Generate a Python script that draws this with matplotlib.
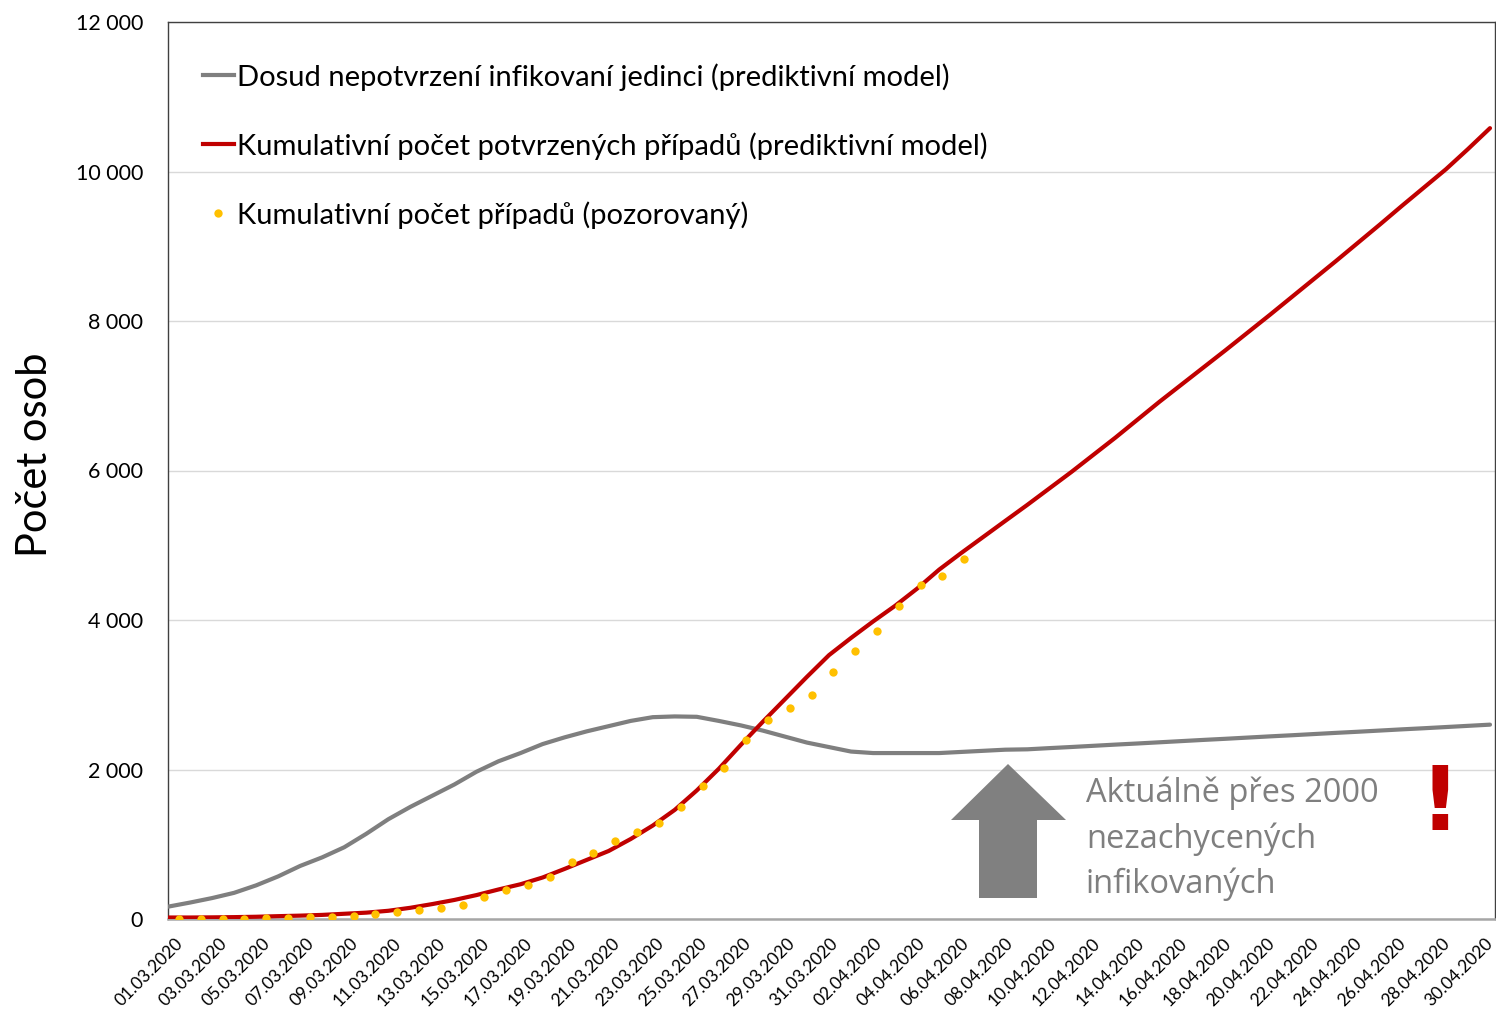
import numpy as np
import matplotlib
matplotlib.use("Agg")
import matplotlib.pyplot as plt
from matplotlib.lines import Line2D
from matplotlib.patches import Polygon
from matplotlib.ticker import FuncFormatter, MultipleLocator
import matplotlib.transforms as mtransforms

# ---------------- data ----------------
day_labels = [f"{d:02d}.03.2020" for d in range(1, 32)] + [f"{d:02d}.04.2020" for d in range(1, 31)]

unconfirmed_model = [165, 220, 280, 350, 450, 570, 710, 825, 960, 1140,
                     1335, 1500, 1650, 1800, 1970, 2110, 2220, 2340, 2430, 2510,
                     2580, 2650, 2700, 2710, 2705, 2650, 2590, 2520, 2440, 2360,
                     2300, 2240, 2220, 2220, 2220, 2220, 2235, 2250, 2265, 2270,
                     2286, 2301, 2317, 2333, 2348, 2364, 2380, 2396, 2411, 2427,
                     2443, 2458, 2474, 2490, 2505, 2521, 2537, 2552, 2568, 2584,
                     2600]

confirmed_model = [20, 20, 22, 25, 30, 38, 45, 55, 70, 85,
                   110, 150, 200, 255, 320, 395, 465, 555, 670, 790,
                   910, 1070, 1250, 1460, 1720, 2010, 2330, 2640, 2940, 3240,
                   3530, 3760, 3980, 4190, 4420, 4674, 4896, 5111, 5326, 5540,
                   5760, 5980, 6210, 6440, 6680, 6920, 7150, 7380, 7610, 7845,
                   8080, 8320, 8560, 8800, 9045, 9290, 9540, 9785, 10030, 10300,
                   10580]

observed = [3, 3, 5, 5, 8, 19, 26, 32, 38, 63,
            94, 116, 141, 189, 298, 383, 450, 560, 765, 889,
            1047, 1161, 1287, 1497, 1775, 2022, 2395, 2657, 2817, 3001,
            3308, 3589, 3858, 4190, 4472, 4587, 4822]

legend_labels = ["Dosud nepotvrzení infikovaní jedinci (prediktivní model)",
                 "Kumulativní počet potvrzených případů (prediktivní model)",
                 "Kumulativní počet případů (pozorovaný)"]

annotation_text = "Aktuálně přes 2000\nnezachycených\ninfikovaných"

# ---------------- style ----------------
GRAY = "#7F7F7F"
RED = "#C00000"
GOLD = "#FFC000"
plt.rcParams['font.family'] = ['Lato', 'DejaVu Sans']

W, H = 1496, 1009
fig = plt.figure(figsize=(W / 100, H / 100), dpi=100)
ax_l, ax_r, ax_t, ax_b = 168, 1495, 22, 919
ax = fig.add_axes([ax_l / W, 1 - ax_b / H, (ax_r - ax_l) / W, (ax_b - ax_t) / H])

x_days = np.arange(len(day_labels))
x_obs = np.arange(len(observed)) * 0.99 + 0.5

ax.plot(x_days, unconfirmed_model, color=GRAY, lw=3.0, solid_capstyle='round', zorder=3)
ax.plot(x_days, confirmed_model, color=RED, lw=3.0, solid_capstyle='round', zorder=4)
ax.plot(x_obs, observed, linestyle='none', marker='o', ms=6, color=GOLD, mec='none', zorder=5)

ax.set_xlim(0, (len(day_labels) - 1) * (ax_r - ax_l) / (1490 - ax_l))
ax.set_ylim(0, 12000)

ax.yaxis.set_major_locator(MultipleLocator(2000))
ax.yaxis.set_major_formatter(FuncFormatter(lambda v, p: f"{int(v):,}".replace(",", " ")))
ax.grid(axis='y', color='#D9D9D9', lw=1)
ax.set_axisbelow(True)

# x tick labels drawn as rotated texts below each tick
tick_pos = x_days[::2]
tick_txt = day_labels[::2]
ax.set_xticks(tick_pos)
ax.set_xticklabels([])
n = len(tick_pos)
base = ax.get_xaxis_transform()
for i, (xp, lab) in enumerate(zip(tick_pos, tick_txt)):
    dx = 7 - 12 * i / (n - 1)
    off = mtransforms.ScaledTranslation(dx / 100, -16 / 100, fig.dpi_scale_trans)
    ax.text(xp, 0, lab, transform=base + off, rotation=45, ha='right', va='top',
            rotation_mode='anchor', fontsize=12.5, clip_on=False)

ax.tick_params(axis='both', length=0)
ax.tick_params(axis='y', labelsize=15.5, pad=18)

for s in ['left', 'top', 'right']:
    ax.spines[s].set_color('#404040')
    ax.spines[s].set_linewidth(1.0)
ax.spines['bottom'].set_color('#A6A6A6')
ax.spines['bottom'].set_linewidth(1.8)

fig.text(35 / W, 1 - 455 / H, "Počet osob", rotation=90, fontsize=30,
         ha='center', va='center')

handles = [Line2D([], [], color=GRAY, lw=3),
           Line2D([], [], color=RED, lw=3),
           Line2D([], [], color=GOLD, marker='o', ms=6, linestyle='none', mec='none')]
leg = ax.legend(handles, legend_labels, loc='upper left',
                bbox_to_anchor=((203 - ax_l) / (ax_r - ax_l), (ax_b - 63) / (ax_b - ax_t)),
                frameon=False, fontsize=21, handlelength=1.05, handletextpad=0.1,
                labelspacing=1.42, borderpad=0, borderaxespad=0)

# annotation arrow (figure pixel coordinates)
arrow_pts = [(1008, 764), (1066, 820), (1037, 820), (1037, 898),
             (979, 898), (979, 820), (951, 820)]
arrow = Polygon([(x / W, 1 - y / H) for x, y in arrow_pts], closed=True,
                facecolor='#808080', edgecolor='none', transform=fig.transFigure)
fig.patches.append(arrow)

fig.text(1086 / W, 1 - 777 / H, annotation_text, color='#7F7F7F', fontsize=23.5,
         family=['Open Sans', 'DejaVu Sans'], ha='left', va='top', linespacing=1.46)
fig.text(1440 / W, 1 - 806 / H, "!", color=RED, fontsize=64, fontweight='bold',
         family=['DejaVu Sans'], ha='center', va='center')

fig.savefig("out.png", dpi=100)
